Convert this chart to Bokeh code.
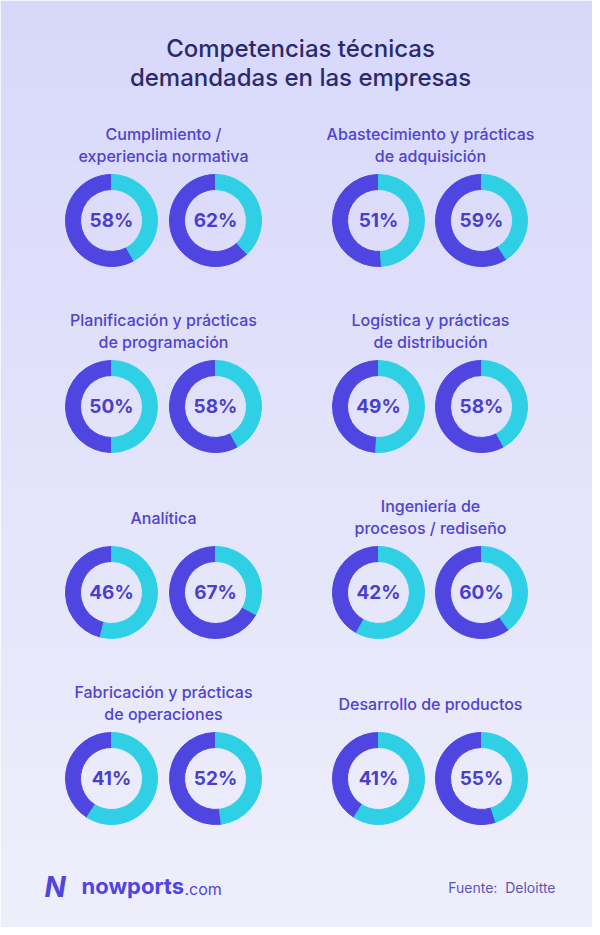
import numpy as np
from bokeh.plotting import figure
from bokeh.models import Range1d
from bokeh.core.properties import value
from bokeh.embed import file_html
from bokeh.resources import INLINE

# ---------------- data ----------------
title_lines = ["Competencias técnicas", "demandadas en las empresas"]
categories = [
    ["Cumplimiento /", "experiencia normativa"],
    ["Abastecimiento y prácticas", "de adquisición"],
    ["Planificación y prácticas", "de programación"],
    ["Logística y prácticas", "de distribución"],
    ["Analítica"],
    ["Ingeniería de", "procesos / rediseño"],
    ["Fabricación y prácticas", "de operaciones"],
    ["Desarrollo de productos"],
]
values_a = [58, 51, 50, 49, 46, 42, 41, 41]
values_b = [62, 59, 58, 58, 67, 60, 52, 55]
source_label = "Fuente:\u00a0 Deloitte"
brand = "nowports"
brand_suffix = ".com"

# ---------------- layout / style ----------------
W, H = 592, 927
FONT_M = value("Inter Medium")
FONT = value("Inter")
PURPLE = "#4f45e0"
CYAN = "#2fd0e6"
TXT_PURPLE = "#4e43cf"
PCT_COL = "#4a3fcc"
TITLE_COL = "#2b2a6c"

col_donut_x = [[111, 215], [378, 481]]
col_text_x = [163, 430]
row_y = [220, 406, 592, 778]

p = figure(width=W, height=H, output_backend="svg", toolbar_location=None,
           x_range=Range1d(0, W), y_range=Range1d(-H, 0),
           min_border=0, outline_line_color=None)
p.axis.visible = False
p.grid.visible = False
p.border_fill_color = "#e3e3fa"

# background gradient
ny = 200
t = np.linspace(0, 1, ny)[:, None]
top = np.array([216, 216, 251]); bot = np.array([239, 239, 252])
nx = 2
cols = top[None, None, :] * (1 - t[..., None]) + bot[None, None, :] * t[..., None]
cols = np.repeat(cols, nx, axis=1)
img = np.zeros((ny, nx), dtype=np.uint32)
view = img.view(dtype=np.uint8).reshape((ny, nx, 4))
view[..., 0] = cols[..., 0]
view[..., 1] = cols[..., 1]
view[..., 2] = cols[..., 2]
view[..., 3] = 255
img = img[::-1]  # row 0 is bottom
p.image_rgba(image=[img], x=0, y=-H, dw=W, dh=H)

# main title
p.text(x=[300, 300], y=[-48, -77], text=title_lines, text_font=FONT_M,
       text_font_size="24px", text_color=TITLE_COL, text_align="center",
       text_baseline="middle")

# panels
for i, lines in enumerate(categories):
    r, c = divmod(i, 2)
    cy = row_y[r]
    tx = col_text_x[c]
    if len(lines) == 2:
        ys = [-(cy - 87), -(cy - 65)]
    else:
        ys = [-(cy - 75)]
    p.text(x=[tx] * len(lines), y=ys, text=lines, text_font=FONT_M,
           text_font_size="16px", text_color=TXT_PURPLE, text_align="center",
           text_baseline="middle")
    for dx, v in zip(col_donut_x[c], [values_a[i], values_b[i]]):
        a0 = np.pi / 2
        a1 = np.pi / 2 + 2 * np.pi * v / 100
        p.annular_wedge(x=[dx], y=[-cy], inner_radius=31, outer_radius=46,
                        inner_radius_units="screen", outer_radius_units="screen",
                        start_angle=[a0], end_angle=[a1], color=PURPLE)
        p.annular_wedge(x=[dx], y=[-cy], inner_radius=31, outer_radius=46,
                        inner_radius_units="screen", outer_radius_units="screen",
                        start_angle=[a1], end_angle=[a0 + 2 * np.pi], color=CYAN)
        p.text(x=[dx], y=[-cy], text=[f"{v}%"], text_font=FONT,
               text_font_size="19px", text_font_style="bold",
               text_color=PCT_COL, text_align="center", text_baseline="middle")

# footer
p.text(x=[44], y=[-886], text=["N"], text_font=FONT, text_font_size="28px",
       text_font_style="bold italic", text_color=PURPLE, text_align="left",
       text_baseline="middle")
p.text(x=[81], y=[-885], text=[brand], text_font=FONT, text_font_size="22px",
       text_font_style="bold", text_color=PURPLE, text_align="left",
       text_baseline="middle")
p.text(x=[184], y=[-888], text=[brand_suffix], text_font=FONT, text_font_size="16px",
       text_color=PURPLE, text_align="left", text_baseline="middle")
p.text(x=[555], y=[-887], text=[source_label], text_font=FONT, text_font_size="14px",
       text_color="#5a55b8", text_align="right", text_baseline="middle")

open("out.html", "w").write(file_html(p, INLINE))
